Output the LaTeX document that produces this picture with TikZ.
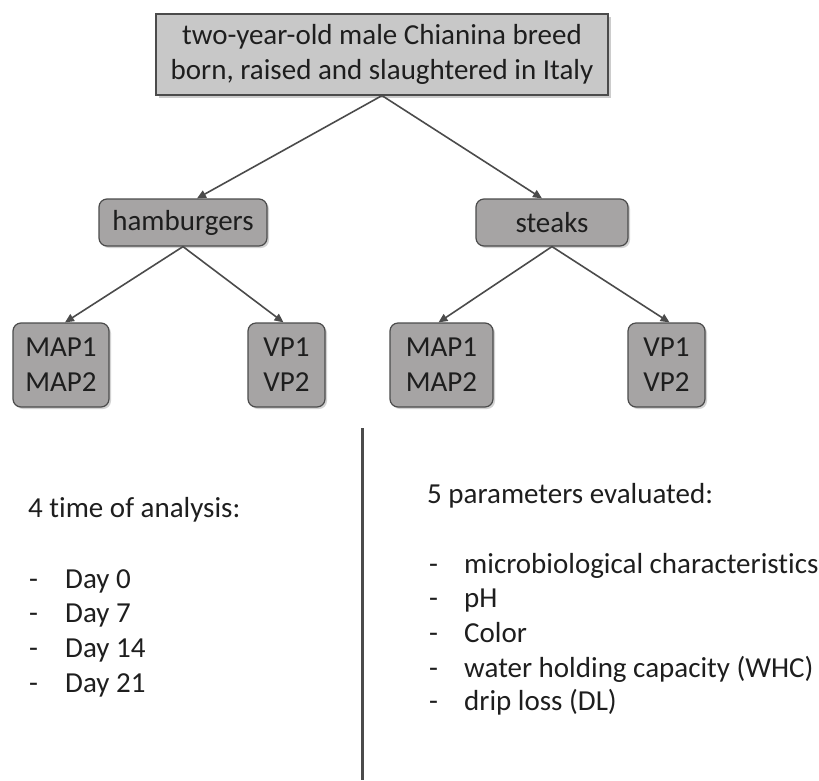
\documentclass[tikz,border=0pt]{standalone}
\usepackage{fontspec}
\setmainfont{Carlito}[Ligatures={NoCommon,NoRare}]
\usetikzlibrary{shadows,arrows.meta}
\definecolor{topfill}{RGB}{200,200,200}
\definecolor{boxfill}{RGB}{166,164,164}
\definecolor{edgec}{RGB}{75,75,75}
\definecolor{txt}{RGB}{30,30,30}
\begin{document}
\begin{tikzpicture}[x=1pt,y=-1pt,
  every node/.style={text=txt},
  mainfont/.style={font=\fontsize{29}{35}\selectfont},
  topbox/.style={mainfont, draw=edgec, line width=1.2pt, fill=topfill, minimum width=452pt, minimum height=81pt, align=center, inner sep=0pt, drop shadow={shadow xshift=3pt,shadow yshift=-3pt,fill=black!40}},
  subbox/.style={mainfont, draw=edgec, line width=1.2pt, fill=boxfill, rounded corners=8pt, align=center, inner sep=0pt, minimum height=47pt, drop shadow={shadow xshift=2pt,shadow yshift=-2pt,fill=black!35}},
  leafbox/.style={subbox, minimum height=84pt},
  conn/.style={draw=edgec, line width=1.6pt, -{Triangle[length=9pt,width=8pt]}},
  label/.style={mainfont, anchor=base west, inner sep=0pt},
]
\useasboundingbox (0,0) rectangle (819,780);
\node[topbox] (top) at (382,54.5) {two-year-old male Chianina breed\\born, raised and slaughtered in Italy};
\node[subbox, minimum width=168pt] (ham) at (183,222.5) {hamburgers};
\node[subbox, minimum width=152pt] (stk) at (552,222.5) {steaks};
\node[leafbox, minimum width=96pt] (hmap) at (61,365) {MAP1\\MAP2};
\node[leafbox, minimum width=77pt] (hvp) at (286.5,365) {VP1\\VP2};
\node[leafbox, minimum width=103pt] (smap) at (441.5,365) {MAP1\\MAP2};
\node[leafbox, minimum width=77pt] (svp) at (666.5,365) {VP1\\VP2};
\draw[conn] (top.south) -- ([xshift=14pt]ham.north);
\draw[conn] (top.south) -- ([xshift=-10pt]stk.north);
\draw[conn] (ham.south) -- ([xshift=4pt]hmap.north);
\draw[conn] (ham.south) -- ([xshift=-3pt]hvp.north);
\draw[conn] (stk.south) -- ([xshift=-3pt]smap.north);
\draw[conn] (stk.south) -- ([xshift=3pt]svp.north);
\coordinate (divtop) at (362,428);
\coordinate (divbot) at (362,780);
\draw[draw=edgec, line width=3pt] (divtop) -- (divbot);
% left list
\node[label] (lt) at (28,517) {4 time of analysis:};
\foreach \y/\t/\n in {588/Day 0/a, 622/Day 7/b, 657/Day 14/c, 692/Day 21/d}{
  \node[label] (ld\n) at (29,\y) {-};
  \node[label] (lt\n) at (65,\y) {\t};
}
% right list
\node[label] (rt) at (427,503) {5 parameters evaluated:};
\foreach \y/\t/\n in {573/microbiological characteristics/a, 607/pH/b, 642/Color/c, 677/water holding capacity (WHC)/d, 710/drip loss (DL)/e}{
  \node[label] (rd\n) at (429,\y) {-};
  \node[label] (rt\n) at (464,\y) {\t};
}
\end{tikzpicture}
\end{document}
